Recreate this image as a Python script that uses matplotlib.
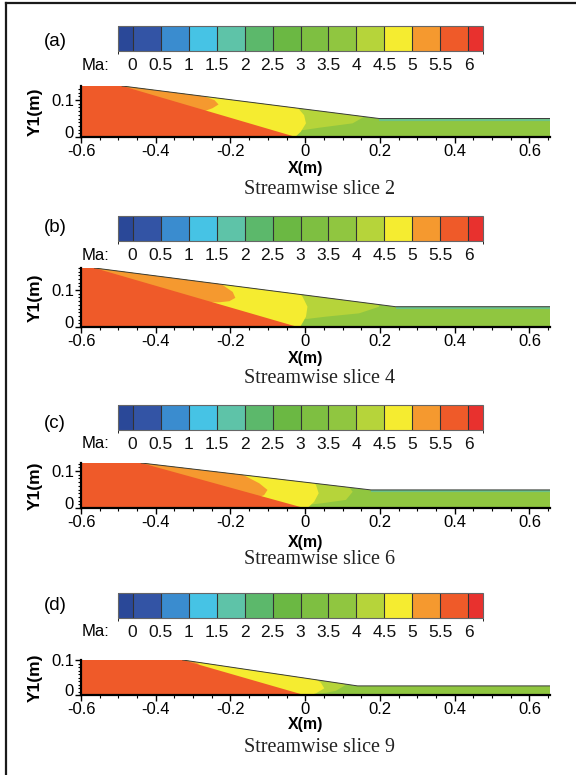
import matplotlib
matplotlib.use("Agg")
import matplotlib.pyplot as plt
import matplotlib.cm as cm
import matplotlib.transforms as mtransforms
from matplotlib.colors import ListedColormap, BoundaryNorm
from matplotlib.patches import Polygon
from matplotlib.lines import Line2D
from matplotlib.ticker import MultipleLocator

plt.rcParams['axes.unicode_minus'] = False
plt.rcParams['font.family'] = ['Liberation Sans', 'DejaVu Sans']

W, H = 576, 775

# ---------------- colour scale ----------------
mach_levels = [-0.26, 0, 0.5, 1, 1.5, 2, 2.5, 3, 3.5, 4, 4.5, 5, 5.5, 6, 6.26]
mach_colors = ['#2a4898', '#3354a5', '#3a8ccf', '#46c3e5', '#5ec3a8', '#5cb86b',
               '#6bb843', '#7ebf41', '#90c640', '#b6d43a', '#f5ec30', '#f5992f',
               '#ef5a29', '#e8312e']
mach_tick_values = [0, 0.5, 1, 1.5, 2, 2.5, 3, 3.5, 4, 4.5, 5, 5.5, 6]
mach_tick_labels = ['0', '0.5', '1', '1.5', '2', '2.5', '3', '3.5', '4', '4.5', '5', '5.5', '6']

# ---------------- panels ----------------
panel_labels = ['(a)', '(b)', '(c)', '(d)']
slice_captions = ['Streamwise slice 2', 'Streamwise slice 4',
                  'Streamwise slice 6', 'Streamwise slice 9']
x_ticks = [-0.6, -0.4, -0.2, 0, 0.2, 0.4, 0.6]
x_tick_labels = ['-0.6', '-0.4', '-0.2', '0', '0.2', '0.4', '0.6']
y_ticks = [0, 0.1]
y_tick_labels = ['0', '0.1']
x_limits = (-0.6, 0.655)
y_top = [0.138, 0.160, 0.122, 0.100]

# geometry of each slice (m)
inlet_height = [0.138, 0.160, 0.122, 0.100]
ramp_start_x = [-0.490, -0.564, -0.439, -0.328]
ramp_end_x = [0.198, 0.242, 0.176, 0.140]
outlet_height = [0.050, 0.055, 0.049, 0.026]
shock_foot_x = [-0.025, -0.020, -0.003, -0.003]
outlet_x = 0.655

# Mach number of each flow region
mach_core = 5.75
mach_orange = 5.25
mach_yellow = 4.75
mach_light_green = 4.25
mach_green = 3.75
mach_wall_layer = 1.75

# iso-Mach boundaries, listed from the wall down
orange_edge = [
    [(-0.319, 0.149), (-0.283, 0.114), (-0.243, 0.100), (-0.232, 0.088), (-0.248, 0.078), (-0.275, 0.068)],
    [(-0.266, 0.141), (-0.221, 0.114), (-0.194, 0.095), (-0.187, 0.079), (-0.203, 0.070), (-0.230, 0.067)],
    [(-0.212, 0.112), (-0.159, 0.086), (-0.123, 0.067), (-0.101, 0.049), (-0.110, 0.035), (-0.132, 0.026)],
    [(-0.319, 0.105), (-0.283, 0.088), (-0.301, 0.079)],
]
yellow_edge = [
    [(-0.043, 0.105), (-0.020, 0.079), (-0.003, 0.059), (0.002, 0.037), (-0.012, 0.014), (-0.029, -0.002)],
    [(-0.034, 0.114), (-0.007, 0.082), (0.006, 0.055), (0.002, 0.028), (-0.014, -0.001)],
    [(0.006, 0.089), (0.029, 0.062), (0.036, 0.040), (0.024, 0.017), (0.002, -0.004)],
    [(0.020, 0.052), (0.042, 0.035), (0.051, 0.019), (0.029, 0.005), (0.002, -0.005)],
]
light_green_edge = [
    [(0.120, 0.110), (0.144, 0.078), (0.158, 0.055), (0.127, 0.037), (0.037, 0.025), (-0.003, 0.019)],
    [(0.160, 0.110), (0.189, 0.078), (0.198, 0.055), (0.144, 0.037), (0.055, 0.028), (0.006, 0.022)],
    [(0.090, 0.090), (0.109, 0.067), (0.127, 0.044), (0.109, 0.022), (0.046, 0.013), (0.020, 0.010)],
    [(0.060, 0.060), (0.082, 0.043), (0.109, 0.029), (0.082, 0.012), (0.055, 0.006), (0.030, 0.004)],
]

# pixel layout (top, bottom) of each block
cbar_rows = [(26, 51), (216, 241), (405, 430), (593, 618)]
axes_rows = [(86, 137), (268, 327), (463, 508), (660, 695)]
label_y = [42, 227, 424, 606]
xlabel_y = [169, 359, 542, 725]
caption_y = [190, 378, 560, 747]

cmap = ListedColormap(mach_colors)
norm = BoundaryNorm(mach_levels, cmap.N)


def rect(x0, y0, x1, y1):
    return [x0 / W, 1 - y1 / H, (x1 - x0) / W, (y1 - y0) / H]


def region(curve):
    return [(-0.8, 0.4), (curve[0][0], 0.4)] + list(curve) + [(-0.8, curve[-1][1])]


fig = plt.figure(figsize=(W / 100, H / 100), dpi=100)
zero_shift = mtransforms.ScaledTranslation(0, 5 / 100, fig.dpi_scale_trans)

for i in range(4):
    # ---- colour bar ----
    ct, cbt = cbar_rows[i]
    cax = fig.add_axes(rect(118, ct, 483, cbt))
    cb = fig.colorbar(cm.ScalarMappable(norm=norm, cmap=cmap), cax=cax,
                      orientation='horizontal', spacing='proportional',
                      ticks=mach_tick_values, drawedges=True)
    cb.ax.set_xticklabels(mach_tick_labels)
    cb.ax.tick_params(length=0, pad=5, labelsize=12.5, colors='#111111')
    cb.outline.set_edgecolor('#666666')
    cb.outline.set_linewidth(0.8)
    cb.dividers.set_color('#333333')
    cb.dividers.set_linewidth(0.8)
    fig.text(82 / W, 1 - (cbt + 14) / H, 'Ma:', fontsize=12, ha='left', va='center')
    fig.text(55 / W, 1 - label_y[i] / H, panel_labels[i], fontsize=13.5, ha='center', va='center')

    # ---- slice contour ----
    at, ab = axes_rows[i]
    ax = fig.add_axes(rect(81, at, 550, ab))
    ax.set_xlim(*x_limits)
    ax.set_ylim(0, y_top[i])
    hin, hout = inlet_height[i], outlet_height[i]
    xs, xe = ramp_start_x[i], ramp_end_x[i]
    domain = [(-0.6, 0), (-0.6, hin), (xs, hin), (xe, hout), (outlet_x, hout), (outlet_x, 0)]
    dom = Polygon(domain, closed=True, facecolor=cmap(norm(mach_green)), edgecolor='none', zorder=1)
    ax.add_patch(dom)
    layers = [
        (region(light_green_edge[i]), mach_light_green),
        (region(yellow_edge[i]), mach_yellow),
        (region(orange_edge[i]), mach_orange),
        ([(-0.6, 0), (-0.6, hin), (xs, hin), (shock_foot_x[i], 0)], mach_core),
    ]
    for z, (pts, m) in enumerate(layers):
        p = Polygon(pts, closed=True, facecolor=cmap(norm(m)), edgecolor='none', zorder=2 + z)
        ax.add_patch(p)
        p.set_clip_path(dom)
    if i < 3:
        wl, = ax.plot([xe, outlet_x], [hout, hout], color=cmap(norm(mach_wall_layer)),
                      lw=3.0, alpha=0.7, zorder=7, solid_capstyle='butt')
        wl.set_clip_path(dom)
    ax.plot([xs, xe, outlet_x], [hin, hout, hout], color='#3a3a3a', lw=0.7, zorder=8)
    ax.plot([outlet_x, outlet_x], [0, hout], color='#777777', lw=0.6, zorder=8)

    for s in ['top', 'right']:
        ax.spines[s].set_visible(False)
    for s in ['left', 'bottom']:
        ax.spines[s].set_linewidth(1.6)
        ax.spines[s].set_zorder(10)
    ax.set_xticks(x_ticks)
    ax.set_xticklabels(x_tick_labels)
    ax.xaxis.set_minor_locator(MultipleLocator(0.05))
    ax.set_yticks(y_ticks)
    ax.set_yticklabels(y_tick_labels)
    ax.yaxis.set_minor_locator(MultipleLocator(0.01))
    ax.tick_params(which='major', direction='out', length=4, width=1.0, labelsize=12, pad=1)
    ax.tick_params(which='minor', direction='out', length=2.5, width=0.8)
    lab0 = ax.get_yticklabels()[0]
    lab0.set_transform(lab0.get_transform() + zero_shift)
    ax.set_facecolor('none')
    ax.set_ylabel('Y1(m)', fontsize=12.5, fontweight='bold')
    ax.yaxis.set_label_coords(-0.082, 0.5)
    fig.text(306 / W, 1 - xlabel_y[i] / H, 'X(m)', fontsize=11.5, fontweight='bold',
             ha='center', va='center')
    fig.text(320 / W, 1 - caption_y[i] / H, slice_captions[i], fontsize=14.5,
             family=['Liberation Serif', 'DejaVu Serif'], ha='center', va='center', color='#222222')

# outer frame (left and top lines)
fig.add_artist(Line2D([6 / W, 6 / W], [0, 1 - 3 / H], color='#1a1a1a', lw=1.6))
fig.add_artist(Line2D([6 / W, 1], [1 - 3 / H, 1 - 3 / H], color='#1a1a1a', lw=1.6))

fig.savefig('out.png', dpi=100)
